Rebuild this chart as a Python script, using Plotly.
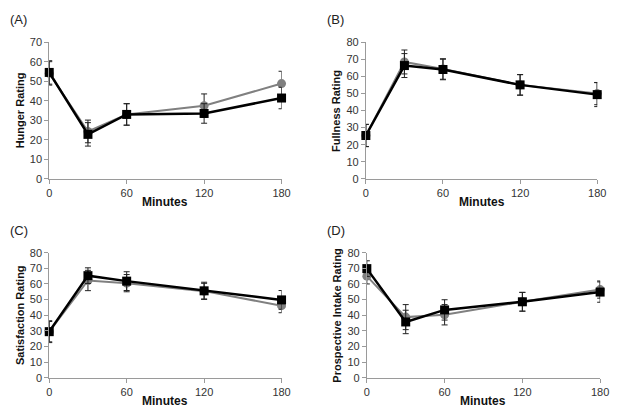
import plotly.graph_objects as go

minutes = [0, 30, 60, 120, 180]

hunger_gray = [54.0, 24.3, 33.0, 37.5, 48.8]
hunger_gray_err = [6.0, 5.8, 5.5, 6.0, 6.3]
hunger_black = [54.5, 22.8, 33.0, 33.5, 41.4]
hunger_black_err = [6.0, 6.0, 5.5, 5.0, 5.5]

full_gray = [25.4, 68.4, 64.3, 55.0, 49.9]
full_gray_err = [6.5, 7.0, 6.0, 6.0, 6.5]
full_black = [25.4, 66.3, 64.0, 55.0, 49.3]
full_black_err = [6.5, 7.0, 6.0, 6.0, 7.0]

sat_gray = [29.5, 62.2, 60.5, 55.4, 46.1]
sat_gray_err = [6.5, 6.5, 5.5, 5.0, 4.5]
sat_black = [29.5, 65.3, 61.8, 55.6, 49.8]
sat_black_err = [7.0, 5.0, 6.0, 5.5, 6.0]

pi_gray = [65.0, 38.8, 40.3, 48.6, 56.4]
pi_gray_err = [5.0, 8.0, 6.5, 6.0, 5.5]
pi_black = [69.8, 35.7, 43.4, 48.6, 54.8]
pi_black_err = [5.0, 7.5, 6.5, 6.0, 6.5]

panel_labels = ["(A)", "(B)", "(C)", "(D)"]
y_titles = ["Hunger Rating", "Fullness Rating", "Satisfaction Rating", "Prospective Intake Rating"]
y_max = [70, 80, 80, 80]
x_ticks = [0, 60, 120, 180]

panels = [
    (hunger_gray, hunger_gray_err, hunger_black, hunger_black_err),
    (full_gray, full_gray_err, full_black, full_black_err),
    (sat_gray, sat_gray_err, sat_black, sat_black_err),
    (pi_gray, pi_gray_err, pi_black, pi_black_err),
]

OFF = 8  # default page body margin
W, H = 624 - 2 * OFF, 418 - 2 * OFF
# pixel boxes in screenshot coords: (left, right, top, bottom)
boxes = [(47, 284, 37, 178), (370, 606, 37, 178), (47, 284, 254, 383), (371, 609, 254, 383)]
ytitle_x = [17, 339, 17, 341]

fig = go.Figure()
font = "Liberation Sans, Arial, sans-serif"
annotations = []


def px(v):
    return (v - OFF) / W


def py(v):
    return 1 - (v - OFF) / H


for i, (g, ge, b, be) in enumerate(panels):
    n = "" if i == 0 else str(i + 1)
    xa, ya = "x" + n, "y" + n
    L, R, T, B = boxes[i]
    for vals, errs, color, sym, lw in [(g, ge, "#808080", "circle", 2), (b, be, "#000000", "square", 2.5)]:
        fig.add_trace(go.Scatter(
            x=minutes, y=vals, xaxis=xa, yaxis=ya, mode="lines+markers",
            line=dict(color=color, width=lw),
            marker=dict(symbol=sym, size=9, color=color),
            error_y=dict(type="data", array=errs, visible=True, color="#222222", thickness=1, width=3),
            cliponaxis=False, showlegend=False,
        ))
    axis_common = dict(showgrid=False, zeroline=False, showline=True, linecolor="#9a9a9a", linewidth=1,
                       ticks="outside", tickcolor="#9a9a9a", ticklen=4,
                       tickfont=dict(family=font, size=11, color="#333"))
    fig.layout["xaxis" + n] = dict(axis_common, domain=[px(L), px(R)], range=[0, 180],
                                    tickvals=x_ticks, anchor=ya)
    fig.layout["yaxis" + n] = dict(axis_common, domain=[py(B), py(T)], range=[0, y_max[i]],
                                    dtick=10, anchor=xa)
    annotations.append(dict(text="<b>Minutes</b>", x=px((L + R) / 2), y=py(B + 24), xref="paper", yref="paper",
                            xanchor="center", yanchor="middle",
                            showarrow=False, font=dict(family=font, size=12, color="#111")))
    annotations.append(dict(text="<b>" + y_titles[i] + "</b>", x=px(ytitle_x[i]), y=py((T + B) / 2),
                            xref="paper", yref="paper", textangle=-90, showarrow=False,
                            xanchor="center", yanchor="middle",
                            font=dict(family=font, size=11, color="#111")))
    annotations.append(dict(text=panel_labels[i], x=px(L - 31), y=py(T - 23), xref="paper", yref="paper",
                            showarrow=False, xanchor="center", yanchor="middle",
                            font=dict(family=font, size=13, color="#222")))

fig.update_layout(width=W, height=H, margin=dict(l=0, r=0, t=0, b=0),
                  paper_bgcolor="white", plot_bgcolor="white", annotations=annotations)

fig.write_html("out.html")
